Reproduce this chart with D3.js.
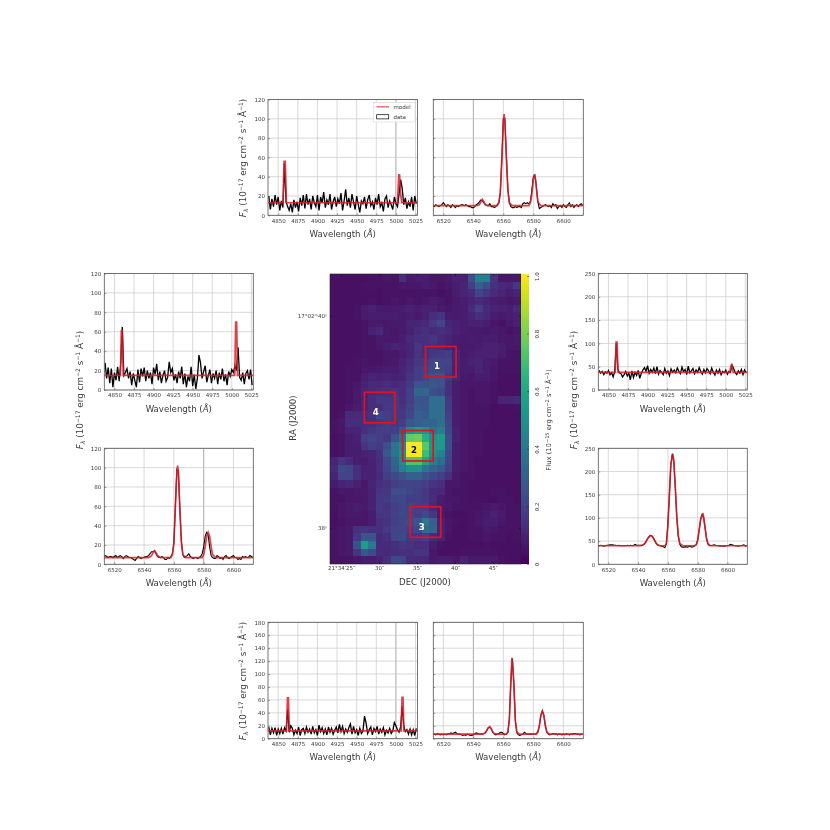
<!DOCTYPE html>
<html><head><meta charset="utf-8">
<script src="https://cdn.jsdelivr.net/npm/d3@7"></script>
<style>html,body{margin:0;padding:0;background:#fff}svg{display:block;filter:blur(0.3px)}text{font-family:"DejaVu Sans";}</style>
</head><body><svg id="c" width="830" height="830"></svg>
<script>
const heatRows=[
[4,4,4,4,4,5,5,6,5,14,7,8,8,6,6,7,9,9,24,42,42,15,6,6,7],
[4,4,4,4,5,5,5,5,5,6,6,6,8,7,5,6,8,10,18,30,24,14,11,10,16],
[4,4,4,4,4,4,4,5,5,5,5,5,5,5,4,5,8,10,12,20,16,12,10,8,10],
[4,4,4,4,4,5,4,5,6,5,6,5,6,8,6,5,7,8,10,12,10,8,7,6,7],
[4,4,4,5,8,9,7,7,7,8,9,8,9,9,7,6,7,8,12,18,12,10,9,8,12],
[4,4,4,5,7,8,8,8,8,7,8,7,9,13,15,8,7,8,10,13,11,8,7,8,9],
[4,4,4,4,5,7,7,6,7,7,10,10,11,16,20,10,9,8,9,9,8,6,5,7,9],
[4,4,4,4,5,9,11,7,6,7,9,12,14,12,13,11,9,8,7,7,6,7,6,5,6],
[4,4,4,4,5,5,7,7,6,8,11,14,14,15,12,10,8,7,8,7,8,8,6,6,7],
[4,4,4,4,5,5,6,8,10,9,10,16,13,14,12,9,8,7,7,8,9,9,8,6,6],
[4,4,4,4,5,5,5,6,6,8,10,15,13,16,17,18,10,7,8,9,9,9,8,5,5],
[4,4,4,5,6,5,5,6,7,9,12,16,17,20,20,20,10,8,9,10,8,7,5,5,5],
[4,4,5,5,6,6,7,8,8,10,13,18,19,22,20,18,9,8,8,10,8,6,5,5,5],
[4,4,5,5,8,10,9,10,9,10,15,18,20,25,25,16,10,7,6,8,8,6,4,4,4],
[4,4,5,6,9,12,11,13,11,13,17,26,25,27,25,14,8,6,6,6,6,5,4,4,4],
[4,4,5,7,10,12,14,14,15,13,18,32,32,24,22,14,8,6,5,6,6,5,4,4,4],
[4,4,5,7,10,13,16,16,16,14,18,26,25,36,36,16,8,6,5,6,6,5,10,10,11],
[4,4,6,8,10,13,14,17,17,15,20,27,26,36,36,17,8,6,5,5,5,4,4,4,5],
[4,5,12,12,12,14,20,18,17,16,22,30,28,36,36,18,8,6,5,5,5,4,4,4,4],
[5,6,13,13,13,14,16,18,16,18,27,30,32,32,36,20,8,6,5,5,5,4,4,4,4],
[5,6,10,10,14,17,18,18,18,27,48,55,50,38,42,22,9,6,5,5,4,4,4,4,4],
[4,5,8,9,18,20,18,16,26,38,76,78,62,50,55,24,9,6,5,5,4,4,4,4,4],
[4,5,8,8,15,18,17,24,38,46,100,100,74,52,54,24,8,6,5,5,4,4,4,4,4],
[4,5,8,8,9,10,14,28,38,50,99,99,68,50,44,22,8,6,5,5,4,4,4,4,4],
[10,15,12,8,8,9,13,22,32,48,72,72,58,42,36,20,8,6,5,4,4,4,4,4,4],
[12,22,20,14,9,9,13,20,30,42,50,50,38,32,28,18,8,6,5,4,4,4,4,4,4],
[10,20,20,14,9,9,12,18,22,26,30,30,25,22,18,14,7,5,5,4,4,4,4,4,4],
[8,10,11,9,7,10,13,15,18,20,21,20,18,15,14,6,6,5,4,4,4,4,4,4,4],
[5,6,6,7,7,9,15,16,24,24,20,18,16,12,11,6,5,5,4,4,4,5,5,4,4],
[5,5,6,6,7,9,16,17,20,22,18,18,17,13,8,6,6,5,4,4,4,4,5,5,4],
[5,6,7,8,7,9,17,15,18,21,20,18,18,11,8,7,5,5,5,5,6,7,6,5,5],
[4,6,7,7,6,8,16,16,19,22,20,18,22,16,7,5,4,4,5,6,7,9,7,5,5],
[4,5,6,6,6,8,14,15,18,20,22,26,40,30,9,6,5,4,5,6,8,8,6,5,5],
[5,6,7,14,15,14,14,17,20,20,18,22,34,32,10,6,4,4,5,5,7,6,5,5,5],
[5,6,7,16,26,25,12,14,20,22,16,16,18,12,9,5,4,4,5,5,6,5,5,4,5],
[5,6,7,25,55,40,12,12,14,16,15,13,14,8,5,4,4,4,4,4,5,4,4,4,4],
[5,6,7,15,28,22,12,11,13,14,14,15,15,6,4,4,4,5,5,5,5,5,4,4,4],
[5,5,5,6,8,8,9,14,22,20,12,12,11,7,8,8,6,10,7,7,7,7,5,4,4]];
const regionLabels=["1","2","3","4"];
const regionCols=[12.5,9.5,10.5,4.5];
const regionRows=[9.5,20.5,30.5,15.5];
const blueWave=d3.range(4838,5027,2);
const redWave=d3.range(6513,6614,1);
const blueTop=[20,6,17,9,21,11,19,5,15,8,54,14,9,5,12,3,16,8,14,4,18,10,21,7,22,11,17,6,20,13,9,21,5,19,13,24,8,16,11,22,6,14,19,9,17,12,23,5,15,27,10,18,8,22,14,6,20,11,3,15,12,19,7,16,21,10,14,6,18,11,22,9,13,4,17,20,8,15,11,6,19,12,9,22,37,28,11,18,7,14,9,19,5,20,12];
const blueLeft=[28,12,23,7,22,3,18,10,24,9,27,65,15,18,22,12,19,5,17,10,3,21,8,22,14,23,9,20,12,18,6,23,16,27,10,19,7,15,20,9,13,29,18,22,10,16,7,19,12,24,6,17,3,14,9,24,4,16,1,12,36,28,12,19,25,8,15,21,7,17,12,20,6,18,11,22,9,16,5,19,14,21,18,25,20,44,13,10,18,6,17,20,11,21,5];
const blueRight=[42,36,40,33,39,36,42,33,37,28,40,100,45,37,35,28,33,40,30,36,22,41,27,38,31,42,25,36,43,48,40,52,36,44,38,47,35,50,34,42,38,33,46,36,41,31,45,38,43,37,47,40,35,49,39,44,33,51,37,41,46,35,43,38,48,40,34,44,37,46,41,35,47,38,32,43,36,44,33,40,37,43,34,40,38,54,46,37,33,41,36,44,33,43,37];
const blueBottom=[18,6,16,9,17,5,15,8,16,7,17,12,45,10,20,16,6,13,8,18,5,14,16,8,18,10,15,7,19,9,14,5,21,11,17,8,15,6,18,10,16,7,13,18,9,22,11,19,8,15,10,17,23,7,19,9,14,5,16,8,12,35,24,8,14,18,6,16,11,19,7,15,10,17,6,13,9,16,8,12,25,20,14,10,18,50,20,11,14,7,15,6,14,5,16];
const redTop=[10,9,11,10,9,10,11,13,11,9,11,10,8,11,10,8,10,9,10,11,11,10,11,10,9,9,8,8,9,11,12,14,16,15,13,11,10,10,12,9,9,8,9,11,13,24,58,100,100,62,28,13,9,8,8,9,8,9,9,8,12,13,12,13,12,14,26,40,42,30,14,7,8,9,10,11,10,9,10,8,12,10,11,7,9,10,8,11,9,8,11,13,9,11,8,10,11,9,11,12,10];
const redLeft=[8,9,8,7,8,8,7,8,9,7,8,9,8,6,8,9,8,7,7,6,5,4,6,8,7,6,7,7,8,8,9,11,13,13,14,11,8,7,7,8,7,5,5,7,6,8,11,22,60,98,96,58,24,10,7,8,9,11,8,7,6,7,7,6,7,8,11,18,29,33,30,18,9,7,6,6,9,8,6,7,5,8,9,7,6,7,8,9,7,7,5,6,5,8,7,8,7,7,9,8,7];
const redRight=[40,40,41,40,39,40,41,41,42,42,42,41,41,40,41,40,40,40,40,40,41,40,41,40,41,43,41,41,41,41,41,43,47,53,58,62,62,58,52,46,42,40,40,39,38,36,44,85,150,215,238,222,165,100,60,43,38,37,37,38,37,38,39,37,38,40,42,52,74,98,108,100,78,54,43,40,40,41,42,41,40,40,39,40,39,39,40,40,41,43,42,41,40,40,39,40,40,41,42,39,40];
const redBottom=[7,7,6,8,7,6,7,6,7,6,8,7,9,8,9,10,8,7,7,6,5,6,5,7,6,5,5,6,8,9,8,7,7,7,8,9,13,17,18,15,10,7,6,7,8,10,10,8,6,7,10,30,88,124,85,28,9,6,5,6,7,10,8,7,7,7,7,7,7,8,10,20,36,43,36,20,10,7,6,7,8,7,8,6,7,7,6,7,6,8,7,6,7,7,8,8,7,7,6,7,7];
const modelTopBlueX=[4837,4856,4857.5,4859,4860.5,5002,5003.6,5004.6,5006,5007.5,5028];
const modelTopBlueY=[13,13,56,56,13,13,42,42,22,13,13];
const modelLeftBlueX=[4837,4857.6,4858.8,4860,4861.2,5003.8,5005,5006.2,5007.4,5028];
const modelLeftBlueY=[15,15,61,61,15,15,70,70,15,15];
const modelRightBlueX=[4837,4858.6,4859.8,4861,4862.2,5005,5006.8,5007.8,5009.6,5028];
const modelRightBlueY=[38,38,103,103,38,38,53,53,38,38];
const modelBottomBlueX=[4837,4860.6,4861.8,4863,4864.2,5006.6,5007.8,5009,5010.2,5028];
const modelBottomBlueY=[12,12,63,63,12,12,64,64,12,12];
const modelTopRedX=[6513,6542,6544,6545,6546,6547,6548,6550,6556,6557,6558,6559,6560,6560.5,6561,6562,6563,6564,6566,6577,6578,6579,6580,6580.7,6581.5,6582,6583,6585,6613];
const modelTopRedY=[10,10,11,14,16.5,14,11,10,10,13,24,58,98,105,98,60,26,13,10,10,13,22,37,42,37,28,14,10,10];
const modelLeftRedX=[6513,6543,6545,6546,6547,6548,6549,6551,6558,6559,6560,6561,6562,6562.5,6563,6564,6565,6566,6568,6579,6580,6581,6582,6583,6584,6585,6586,6588,6613];
const modelLeftRedY=[7,7,9,12,14,12,9,7,7,10,22,60,96,102,97,58,24,10,7,7,10,18,29,33,29,18,10,7,7];
const modelRightRedX=[6513,6542,6544,6545,6546,6547,6548,6548.6,6549,6550,6551,6552,6553,6555,6558,6559,6560,6561,6562,6563,6563.3,6564,6565,6566,6567,6568,6570,6578,6579,6580,6581,6582,6583,6583.6,6584,6585,6586,6587,6588,6590,6613];
const modelRightRedY=[40,40,43,47,53,58,61,62,61,58,52,46,42,40,40,45,85,150,215,235,238,222,165,100,62,45,40,40,42,52,74,96,106,108,102,78,54,45,41,40,40];
const modelBottomRedX=[6513,6546,6548,6549,6550,6551,6552,6553,6554,6556,6562,6563,6564,6565,6565.7,6566,6567,6568,6569,6571,6582,6583,6584,6585,6586,6587,6588,6589,6591,6613];
const modelBottomRedY=[7,7,9,13,17,18.5,15,10,8,7,7,10,30,88,125,122,85,28,10,7,7,10,20,36,43,36,20,10,7,7];
const blueTicks=[4850,4875,4900,4925,4950,4975,5000,5025];
const redTicks=[6520,6540,6560,6580,6600];
const cbTicks=[0,0.2,0.4,0.6,0.8,1.0];
const raTicks=[40,38];
const raLabels=["17°02ᵐ40ˢ","38ˢ"];
const decTicks=[25,30,35,40,45];
const decLabels=["21°34′25″","30″","35″","40″","45″"];

const svg=d3.select("#c");
const FONT="DejaVu Sans";
const txt="#3a3a3a";
function flabel(sel){
  const add=(t,o={})=>{const s=sel.append("tspan").text(t);if(o.st)s.attr("font-style",o.st);if(o.dy!=null)s.attr("dy",o.dy);if(o.fs)s.attr("font-size",o.fs);return s;};
  const sup=(t)=>{add(t,{dy:-3,fs:6});};
  const back=(t)=>{add(t,{dy:3});};
  add("F",{st:"italic"});add("λ",{st:"italic",dy:1.5,fs:6});
  add(" (10",{dy:-1.5});sup("−17");back(" erg cm");sup("−2");back(" s");sup("−1");back(" Å");sup("−1");back(")");
}
function wavelabel(sel){sel.append("tspan").text("Wavelength (");sel.append("tspan").attr("font-style","italic").text("Å");sel.append("tspan").text(")");}

function panel(o){
  const x=d3.scaleLinear().domain(o.xd).range([o.l,o.r]);
  const y=d3.scaleLinear().domain([0,o.ymax]).range([o.b,o.t]);
  const g=svg.append("g");
  const id="clip"+String(o.l).replace(".","_")+"_"+String(o.t).replace(".","_");
  g.append("clipPath").attr("id",id).append("rect").attr("x",o.l).attr("y",o.t).attr("width",o.r-o.l).attr("height",o.b-o.t);
  const yt=d3.range(0,o.ymax+1,o.step);
  g.append("g").selectAll("line").data(o.xt).join("line").attr("x1",d=>x(d)).attr("x2",d=>x(d)).attr("y1",o.t).attr("y2",o.b).attr("stroke",d=>d===o.strong?"#a8a8a8":"#c8c8c8").attr("stroke-width",d=>d===o.strong?1:0.7);
  g.append("g").selectAll("line").data(yt).join("line").attr("x1",o.l).attr("x2",o.r).attr("y1",d=>y(d)).attr("y2",d=>y(d)).attr("stroke","#c8c8c8").attr("stroke-width",0.7);
  const line=d3.line().x(d=>x(d[0])).y(d=>y(d[1]));
  const plot=g.append("g").attr("clip-path",`url(#${id})`);
  plot.append("path").attr("d",line(d3.zip(o.wave,o.flux))).attr("fill","none").attr("stroke","#000").attr("stroke-width",o.lw);
  plot.append("path").attr("d",line(d3.zip(o.mx,o.my))).attr("fill","none").attr("stroke","#d8202c").attr("stroke-width",1.7).attr("stroke-opacity",0.85);
  const ax=g.append("g").attr("transform",`translate(0,${o.b})`).call(d3.axisBottom(x).tickValues(o.xt).tickSize(-2).tickPadding(4).tickFormat(d3.format("d")));
  const ay=g.append("g").attr("transform",`translate(${o.l},0)`).call(d3.axisLeft(y).tickValues(yt).tickSize(-2).tickPadding(3).tickFormat(o.ylab?d3.format("d"):""));
  [ax,ay].forEach(a=>{a.select(".domain").remove();a.selectAll("line").attr("stroke","#444").attr("stroke-width",0.5);a.selectAll("text").attr("font-size",5.5).attr("font-family",FONT).attr("fill",txt);});
  ax.selectAll("text").attr("y",3.5);
  g.append("rect").attr("x",o.l).attr("y",o.t).attr("width",o.r-o.l).attr("height",o.b-o.t).attr("fill","none").attr("stroke","#555").attr("stroke-width",0.8);
  g.append("text").attr("x",(o.l+o.r)/2).attr("y",o.b+21.5).attr("text-anchor","middle").attr("font-size",8.6).attr("fill",txt).call(wavelabel);
  return g;
}
function ylabel(px,py){svg.append("text").attr("transform",`translate(${px},${py}) rotate(-90)`).attr("text-anchor","middle").attr("font-size",8.8).attr("fill",txt).call(flabel);}

panel({l:268,r:417.5,t:99.5,b:215.3,xd:[4837,5027.5],ymax:120,step:20,xt:blueTicks,wave:blueWave,flux:blueTop,mx:modelTopBlueX,my:modelTopBlueY,ylab:true,lw:1.3,strong:5000});
panel({l:433.3,r:583.3,t:99.5,b:215.3,xd:[6513.3,6613.3],ymax:120,step:20,xt:redTicks,wave:redWave,flux:redTop,mx:modelTopRedX,my:modelTopRedY,ylab:false,lw:1.1,strong:6540});
panel({l:104.3,r:253.3,t:273.5,b:390,xd:[4837,5027.5],ymax:120,step:20,xt:blueTicks,wave:blueWave,flux:blueLeft,mx:modelLeftBlueX,my:modelLeftBlueY,ylab:true,lw:1.3});
panel({l:104.3,r:253.3,t:448.3,b:564.3,xd:[6513.3,6613.3],ymax:120,step:20,xt:redTicks,wave:redWave,flux:redLeft,mx:modelLeftRedX,my:modelLeftRedY,ylab:true,lw:1.1,strong:6580});
panel({l:598.3,r:747.3,t:273.5,b:390,xd:[4837,5027.5],ymax:250,step:50,xt:blueTicks,wave:blueWave,flux:blueRight,mx:modelRightBlueX,my:modelRightBlueY,ylab:true,lw:1.3});
panel({l:598.3,r:747.3,t:448.3,b:564.3,xd:[6513.3,6613.3],ymax:250,step:50,xt:redTicks,wave:redWave,flux:redRight,mx:modelRightRedX,my:modelRightRedY,ylab:true,lw:1.1});
panel({l:268,r:417.5,t:622.3,b:738.7,xd:[4837,5027.5],ymax:180,step:20,xt:blueTicks,wave:blueWave,flux:blueBottom,mx:modelBottomBlueX,my:modelBottomBlueY,ylab:true,lw:1.3,strong:5000});
panel({l:433.3,r:583.3,t:622.3,b:738.7,xd:[6513.3,6613.3],ymax:180,step:20,xt:redTicks,wave:redWave,flux:redBottom,mx:modelBottomRedX,my:modelBottomRedY,ylab:false,lw:1.1,strong:6540});
ylabel(246,158);ylabel(83,390);ylabel(577,390);ylabel(246,681);

// legend
const lg=svg.append("g");
lg.append("rect").attr("x",373.5).attr("y",102.5).attr("width",41.5).attr("height",19.5).attr("fill","#fff").attr("stroke","#ccc").attr("stroke-width",0.5);
lg.append("line").attr("x1",376.5).attr("x2",389).attr("y1",106.8).attr("y2",106.8).attr("stroke","#d8202c").attr("stroke-width",1.6).attr("stroke-opacity",0.6);
lg.append("rect").attr("x",376.7).attr("y",114.7).attr("width",12).attr("height",4.2).attr("fill","#fff").attr("stroke","#000").attr("stroke-width",0.7);
lg.append("text").attr("x",393.5).attr("y",108.8).attr("font-size",5.5).attr("fill",txt).text("model");
lg.append("text").attr("x",393.5).attr("y",118.8).attr("font-size",5.5).attr("fill",txt).text("data");

// map
const L=330,R=521,T=274,B=564;
const col=d3.scaleLinear().domain([0,25]).range([L,R]);
const row=d3.scaleLinear().domain([0,38]).range([T,B]);
const color=d3.scaleSequential(d3.interpolateViridis).domain([0,100]);
const m=svg.append("g");
heatRows.forEach((rw,r)=>{
  m.append("g").attr("shape-rendering","crispEdges").selectAll("rect").data(rw).join("rect")
   .attr("x",(d,c)=>col(c)).attr("y",row(r)).attr("width",col(1)-col(0)+0.6).attr("height",row(1)-row(0)+0.6)
   .attr("fill",d=>color(d));
});
m.append("rect").attr("x",R).attr("y",T).attr("width",2).attr("height",B-T+2).attr("fill","#fff");
m.append("rect").attr("x",L).attr("y",B).attr("width",R-L+2).attr("height",2).attr("fill","#fff");
const decS=d3.scaleLinear().domain([23.55,48.7]).range([L,R]);
const raS=d3.scaleLinear().domain([40.396,37.66]).range([T,B]);
const ab=m.append("g").attr("transform",`translate(0,${B})`).call(d3.axisBottom(decS).tickValues(decTicks).tickSize(-2).tickPadding(3).tickFormat((d,i)=>decLabels[i]));
const at=m.append("g").attr("transform",`translate(0,${T})`).call(d3.axisTop(decS).tickValues(decTicks).tickSize(-2).tickFormat(""));
const al=m.append("g").attr("transform",`translate(${L},0)`).call(d3.axisLeft(raS).tickValues(raTicks).tickSize(-2).tickPadding(3).tickFormat((d,i)=>raLabels[i]));
const ar=m.append("g").attr("transform",`translate(${R},0)`).call(d3.axisRight(raS).tickValues(raTicks).tickSize(-2).tickFormat(""));
[ab,at,al,ar].forEach(a=>{a.select(".domain").remove();a.selectAll("line").attr("stroke","#111").attr("stroke-width",0.6);a.selectAll("text").attr("font-size",5.5).attr("font-family",FONT).attr("fill",txt);});
ab.selectAll("text").attr("y",2);
m.append("rect").attr("x",L).attr("y",T).attr("width",R-L).attr("height",B-T).attr("fill","none").attr("stroke","#222").attr("stroke-width",0.6);
// regions
regionLabels.forEach((s,i)=>{
  m.append("rect").attr("x",col(regionCols[i])).attr("y",row(regionRows[i])).attr("width",col(4)-col(0)).attr("height",row(4)-row(0)).attr("fill","none").attr("stroke","#e8101c").attr("stroke-width",1.7);
  m.append("text").attr("x",col(regionCols[i]+1.5)).attr("y",row(regionRows[i]+2.6)+3).attr("text-anchor","middle").attr("font-size",8.6).attr("font-weight","bold").attr("fill",s==="2"?"#000":"#fff").text(s);
});
svg.append("text").attr("x",425).attr("y",584.5).attr("text-anchor","middle").attr("font-size",8.6).attr("fill",txt).text("DEC (J2000)");
svg.append("text").attr("transform","translate(296,418) rotate(-90)").attr("text-anchor","middle").attr("font-size",8.6).attr("fill",txt).text("RA (J2000)");

// colorbar
const cb=svg.append("g");
const grad=svg.append("defs").append("linearGradient").attr("id","vir").attr("x1",0).attr("x2",0).attr("y1",1).attr("y2",0);
d3.range(0,1.001,0.05).forEach(t=>grad.append("stop").attr("offset",t).attr("stop-color",d3.interpolateViridis(t)));
cb.append("rect").attr("x",521).attr("y",T).attr("width",8).attr("height",B-T).attr("fill","url(#vir)");
const cs=d3.scaleLinear().domain([0,1]).range([B,276]);
const ca=cb.append("g").attr("transform","translate(529,0)").call(d3.axisRight(cs).tickValues(cbTicks).tickSize(-2).tickPadding(3).tickFormat(d=>d===0?"0":d3.format(".1f")(d)));
ca.select(".domain").remove();
ca.selectAll("line").attr("stroke","#222").attr("stroke-width",0.5);
ca.selectAll("text").attr("font-size",5.5).attr("fill",txt).attr("text-anchor","middle").attr("dy",0).attr("x",0).attr("y",0)
  .attr("transform","translate(9.5,0) rotate(-90)");
const fl=svg.append("text").attr("transform","translate(551,420) rotate(-90)").attr("text-anchor","middle").attr("font-size",6.8).attr("fill",txt);
fl.append("tspan").text("Flux (10");fl.append("tspan").attr("dy",-2.5).attr("font-size",5).text("−15");fl.append("tspan").attr("dy",2.5).text(" erg cm");fl.append("tspan").attr("dy",-2.5).attr("font-size",5).text("−2");fl.append("tspan").attr("dy",2.5).text(" s");fl.append("tspan").attr("dy",-2.5).attr("font-size",5).text("−1");fl.append("tspan").attr("dy",2.5).text(" Å");fl.append("tspan").attr("dy",-2.5).attr("font-size",5).text("−1");fl.append("tspan").attr("dy",2.5).text(")");
</script></body></html>
